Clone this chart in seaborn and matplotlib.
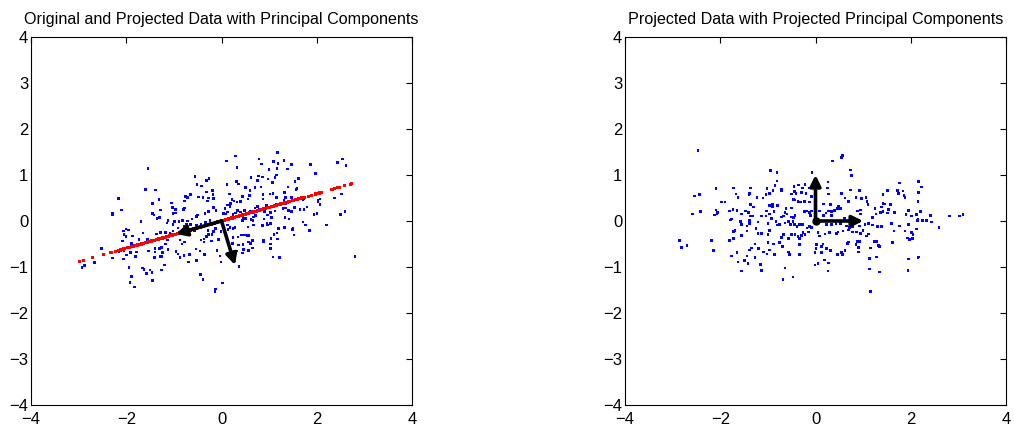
import numpy as np
import pandas as pd
import matplotlib
matplotlib.use("Agg")
import matplotlib.pyplot as plt
import seaborn as sns

# ---- data: projected coordinates (z1, z2) ----
proj_z1 = [
    -2.47, -0.94, -0.81, -0.81, -0.85, -1.02, -2.09, -1.72, -1.37, -2.54,
    -2.44, -1.67, -1.63, -1.38, -1.40, -1.23, -1.10, -1.04, -0.97, -0.89,
    -1.97, -1.90, -1.37, -1.30, -0.97, -0.90, -0.90, -0.80, -2.58, -2.42,
    -2.09, -2.06, -2.07, -2.12, -1.81, -1.73, -1.65, -1.47, -1.56, -1.41,
    -1.37, -1.31, -1.14, -1.03, -1.04, -0.96, -0.87, -0.93, -1.77, -1.39,
    0.57, 0.54, 0.36, 0.73, 0.75, -0.07, 0.26, -0.45, -0.36, -0.27,
    -0.22, -0.13, -0.71, -0.72, -0.44, -0.50, -0.41, -0.29, -0.20, -0.08,
    0.25, 0.27, 0.55, 0.74, 0.92, 0.62, 0.69, 0.85, 0.97, 1.06,
    1.08, -0.46, -0.43, -0.37, -0.32, -0.23, -0.13, 0.17, 0.32, 0.48,
    0.53, 0.46, 0.40, 0.34, 0.27, 0.22, 0.08, -0.62, -0.50, -0.23,
    -0.19, -0.13, -0.08, -0.10, -0.64, -0.60, -0.67, -0.72, -0.50, -0.43,
    -0.46, 0.17, 0.33, 0.61, 0.88, 0.94, 0.95, 1.10, 1.25, 1.27,
    1.20,
    1.76, 2.16, 2.22, 1.51, 1.72, 1.84, 1.74, 1.42, 1.86, 1.88,
    2.16, 2.15, 1.42, 1.46, 1.57, 1.38, 1.53, 1.37, 1.42, 1.51,
    1.66, 1.95, 1.90, 2.02, 2.12, 2.21, 2.42, 2.82, 3.03, 3.10,
    2.15, 2.25, 2.32,
    -1.79, -1.58, -1.55, -1.39, -1.38, -1.44, -1.21, -1.00, -0.83, -0.81,
    -1.25, -1.72, -1.69, -1.44, -1.21, -1.14, -0.97, -1.00, -1.55, -1.72,
    -2.85, -2.70, -2.82, -2.18, -2.14, -1.81, -1.27, -1.00, -0.88, -1.35,
    -1.39, -1.20, -1.09, -0.97, -1.02, -0.86, -1.76, -1.65, -1.44, -1.27,
    -1.49, -1.42, -1.63, -1.16, -1.14, -1.55,
    -0.75, -0.64, -0.57, -0.53, -0.47, -0.44, -0.39, -0.33, -0.27, -0.18,
    -0.12, -0.08, 0.23, 0.33, 0.43, 0.53, 0.65, 0.72, 0.78, 0.92,
    1.04, 1.11, 1.20, 1.30, -0.72, -0.67, -0.57, -0.50, -0.43, -0.37,
    -0.34, -0.29, -0.26, -0.22, -0.15, 0.05, 0.08, 0.20, 0.29, 0.44,
    0.47, 0.58, 0.69, 0.78, 0.86, 0.95, 1.00, 1.07, 1.11, 1.23,
    1.28, -0.76, -0.69, -0.33, 0.02, 0.12, 0.23, 0.16, 0.67, 0.69,
    0.88, 0.93, 0.85, 0.90, 0.01, -0.01, 0.12, -0.57, -0.54, -0.34,
    0.32, 0.46, 0.54, 0.62, 0.57, 0.90, 1.16, 1.28, 1.13, 0.19,
    -0.01, 0.05, 0.27, -0.64, 0.26, 1.14, -0.68, -0.47, 1.16,
    1.39, 1.60, 1.77, 1.95, 2.14, 2.25, 2.33, 2.43, 2.59, 2.12,
    1.65, 1.88, 2.02, 2.05, 1.93, 1.97, 2.04, 1.32, 1.34, 1.62,
    2.15, 2.16, 1.95, 1.94, 1.34,
]
proj_z2 = [
    1.53, 1.10, 1.06, 0.87, 0.77, 0.71, 0.71, 0.72, 0.72, 0.54,
    0.58, 0.59, 0.51, 0.60, 0.57, 0.51, 0.50, 0.58, 0.60, 0.66,
    0.41, 0.41, 0.36, 0.30, 0.34, 0.36, 0.31, 0.34, 0.15, 0.20,
    0.24, 0.18, 0.15, 0.13, 0.22, 0.25, 0.23, 0.22, 0.15, 0.18,
    0.11, 0.11, 0.11, 0.22, 0.11, 0.15, 0.21, 0.06, 0.04, 0.02,
    1.43, 1.38, 1.30, 1.11, 0.99, 1.05, 0.85, 0.75, 0.78, 0.72,
    0.79, 0.72, 0.69, 0.66, 0.64, 0.59, 0.60, 0.62, 0.60, 0.53,
    0.72, 0.59, 0.60, 0.67, 0.66, 0.50, 0.43, 0.51, 0.49, 0.51,
    0.43, 0.47, 0.46, 0.43, 0.41, 0.43, 0.41, 0.37, 0.36, 0.33,
    0.27, 0.27, 0.23, 0.20, 0.22, 0.17, 0.22, 0.27, 0.28, 0.21,
    0.22, 0.18, 0.22, 0.12, 0.18, 0.15, 0.11, 0.09, 0.09, 0.12,
    0.08, 0.12, 0.12, 0.05, 0.22, 0.24, 0.15, 0.36, 0.27, 0.15,
    0.08,
    0.83, 0.86, 0.74, 0.66, 0.66, 0.65, 0.60, 0.58, 0.55, 0.51,
    0.62, 0.42, 0.38, 0.37, 0.36, 0.30, 0.25, 0.19, 0.20, 0.17,
    0.19, 0.23, 0.14, 0.11, 0.14, 0.21, 0.12, 0.11, 0.11, 0.14,
    0.04, 0.02, 0.02,
    0.02, -0.01, -0.07, -0.01, -0.05, -0.11, -0.02, -0.05, -0.01, -0.09,
    -0.16, -0.23, -0.21, -0.22, -0.27, -0.27, -0.21, -0.30, -0.31, -0.38,
    -0.42, -0.53, -0.57, -0.43, -0.64, -0.43, -0.50, -0.47, -0.50, -0.59,
    -0.63, -0.60, -0.67, -0.63, -0.72, -0.73, -0.76, -0.69, -0.76, -0.79,
    -0.86, -0.93, -0.89, -0.95, -1.07, -1.09,
    -0.07, -0.04, -0.01, -0.08, -0.01, -0.07, -0.12, -0.08, -0.07, -0.15,
    -0.12, -0.14, -0.08, -0.07, -0.05, -0.05, -0.11, -0.14, -0.12, -0.11,
    -0.08, -0.05, -0.09, -0.12, -0.36, -0.30, -0.38, -0.30, -0.30, -0.34,
    -0.38, -0.31, -0.25, -0.30, -0.24, -0.25, -0.33, -0.28, -0.25, -0.27,
    -0.24, -0.22, -0.20, -0.24, -0.24, -0.27, -0.21, -0.33, -0.28, -0.44,
    -0.44, -0.47, -0.56, -0.51, -0.51, -0.56, -0.60, -0.50, -0.49, -0.46,
    -0.44, -0.44, -0.51, -0.57, -0.60, -0.69, -0.69, -0.67, -0.73, -0.73,
    -0.64, -0.73, -0.69, -0.64, -0.73, -0.67, -0.59, -0.78, -0.82, -0.85,
    -0.96, -0.93, -0.91, -1.02, -1.09, -1.04, -1.27, -1.22, -1.53,
    -0.12, -0.05, -0.11, -0.07, 0.01, 0.01, 0.01, -0.02, -0.14, -0.17,
    -0.22, -0.22, -0.25, -0.30, -0.37, -0.40, -0.38, -0.53, -0.56, -0.47,
    -0.80, -0.78, -0.83, -1.08, -1.11,
]

pc1 = [-0.959, -0.284]
pc2 = [0.284, -0.959]
mean_xy = [0.0, 0.0]

xticks = [-4, -2, 0, 2, 4]
yticks = [-4, -3, -2, -1, 0, 1, 2, 3, 4]
titles = ["Original and Projected Data with Principal Components",
          "Projected Data with Projected Principal Components"]

# ---- build frames ----
Z = np.column_stack([proj_z1, proj_z2])
U = np.column_stack([pc1, pc2])
X = Z @ U.T + np.array(mean_xy)             # original data
Xrec = np.outer(Z[:, 0], pc1) + np.array(mean_xy)  # projection onto PC1

orig = pd.DataFrame({"x": X[:, 0], "y": X[:, 1]})
recon = pd.DataFrame({"x": Xrec[:, 0], "y": Xrec[:, 1]})
proj = pd.DataFrame({"x": Z[:, 0], "y": Z[:, 1]})

sns.set_style("white")
plt.rcParams["font.family"] = ["Liberation Sans", "DejaVu Sans"]
plt.rcParams["axes.unicode_minus"] = True

fig = plt.figure(figsize=(10.14, 4.32), dpi=100)
ax1 = fig.add_axes([0.0306, 0.0625, 0.3757, 0.8519])
ax2 = fig.add_axes([0.6164, 0.0625, 0.3757, 0.8519])

def style(ax, title):
    ax.set_xlim(-4, 4)
    ax.set_ylim(-4, 4)
    ax.set_xticks(xticks)
    ax.set_yticks(yticks)
    ax.set_xlabel("")
    ax.set_ylabel("")
    ax.tick_params(direction="in", top=True, right=True, length=4,
                   width=0.8, labelsize=12, colors="black")
    ax.tick_params(axis="x", pad=5)
    ax.tick_params(axis="y", pad=2)
    for s in ax.spines.values():
        s.set_visible(True)
        s.set_color("black")
        s.set_linewidth(0.8)
    ax.set_title(title, fontsize=11.6, pad=9, color="black")

arrow_kw = dict(arrowstyle="-|>", lw=2.6, color="black",
                mutation_scale=16, shrinkA=0, shrinkB=0)

# left panel
sns.scatterplot(data=orig, x="x", y="y", ax=ax1, marker="s", s=3.5,
                color="blue", edgecolor="none", linewidth=0)
sns.scatterplot(data=recon, x="x", y="y", ax=ax1, marker="s", s=5,
                color="red", edgecolor="none", linewidth=0)
for v in (pc1, pc2):
    ax1.annotate("", xy=(mean_xy[0] + v[0], mean_xy[1] + v[1]),
                 xytext=(mean_xy[0], mean_xy[1]), arrowprops=arrow_kw)
style(ax1, titles[0])

# right panel
sns.scatterplot(data=proj, x="x", y="y", ax=ax2, marker="s", s=3.5,
                color="blue", edgecolor="none", linewidth=0)
proj_pcs = U.T @ U
for v in proj_pcs.T:
    ax2.annotate("", xy=(v[0], v[1]), xytext=(0, 0), arrowprops=arrow_kw)
ax2.plot([0], [0], "o", color="black", markersize=5)
style(ax2, titles[1])

fig.savefig("out.png", dpi=100)
